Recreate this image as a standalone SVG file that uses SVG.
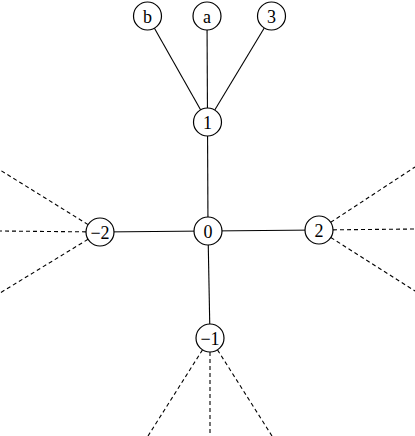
<svg xmlns="http://www.w3.org/2000/svg" width="415" height="436" viewBox="0 0 415 436">
<style>
.n circle{fill:#fff;stroke:#000;stroke-width:1.2}
.n text{font-family:"Liberation Serif","DejaVu Serif",serif;font-size:18px;text-anchor:middle;dominant-baseline:central;fill:#000}
.s{stroke:#000;stroke-width:1.1;fill:none}
.d{stroke:#000;stroke-width:1.1;fill:none;stroke-dasharray:4 3}
</style>
<rect width="415" height="436" fill="#fff"/>
<g id="connectors">
<line class="s" x1="147.5" y1="16" x2="207.5" y2="122"/>
<line class="s" x1="207" y1="16" x2="207.5" y2="122"/>
<line class="s" x1="271.5" y1="16" x2="207.5" y2="122"/>
<line class="s" x1="207.5" y1="122" x2="208" y2="231"/>
<line class="s" x1="208" y1="231" x2="100" y2="232"/>
<line class="s" x1="208" y1="231" x2="319" y2="230"/>
<line class="s" x1="208" y1="231" x2="210" y2="338"/>
<line class="d" x1="100" y1="232" x2="0" y2="170"/>
<line class="d" x1="100" y1="232" x2="0" y2="231"/>
<line class="d" x1="100" y1="232" x2="0" y2="293"/>
<line class="d" x1="319" y1="230" x2="415" y2="167"/>
<line class="d" x1="319" y1="230" x2="415" y2="229"/>
<line class="d" x1="319" y1="230" x2="415" y2="291"/>
<line class="d" x1="210" y1="338" x2="148" y2="436"/>
<line class="d" x1="210" y1="338" x2="210" y2="436"/>
<line class="d" x1="210" y1="338" x2="272" y2="436"/>
</g>
<g id="node-b" class="n"><circle cx="147.5" cy="16" r="14"/><text x="147.5" y="17">b</text></g>
<g id="node-a" class="n"><circle cx="207" cy="16" r="14"/><text x="207" y="17">a</text></g>
<g id="node-3" class="n"><circle cx="271.5" cy="16" r="14"/><text x="271.5" y="17">3</text></g>
<g id="node-1" class="n"><circle cx="207.5" cy="122" r="14"/><text x="207.5" y="123">1</text></g>
<g id="node-0" class="n"><circle cx="208" cy="231" r="14"/><text x="208" y="232">0</text></g>
<g id="node-m2" class="n"><circle cx="100" cy="232" r="14"/><text x="100" y="233">−2</text></g>
<g id="node-2" class="n"><circle cx="319" cy="230" r="14"/><text x="319" y="231">2</text></g>
<g id="node-m1" class="n"><circle cx="210" cy="338" r="14"/><text x="210" y="339">−1</text></g>
</svg>
